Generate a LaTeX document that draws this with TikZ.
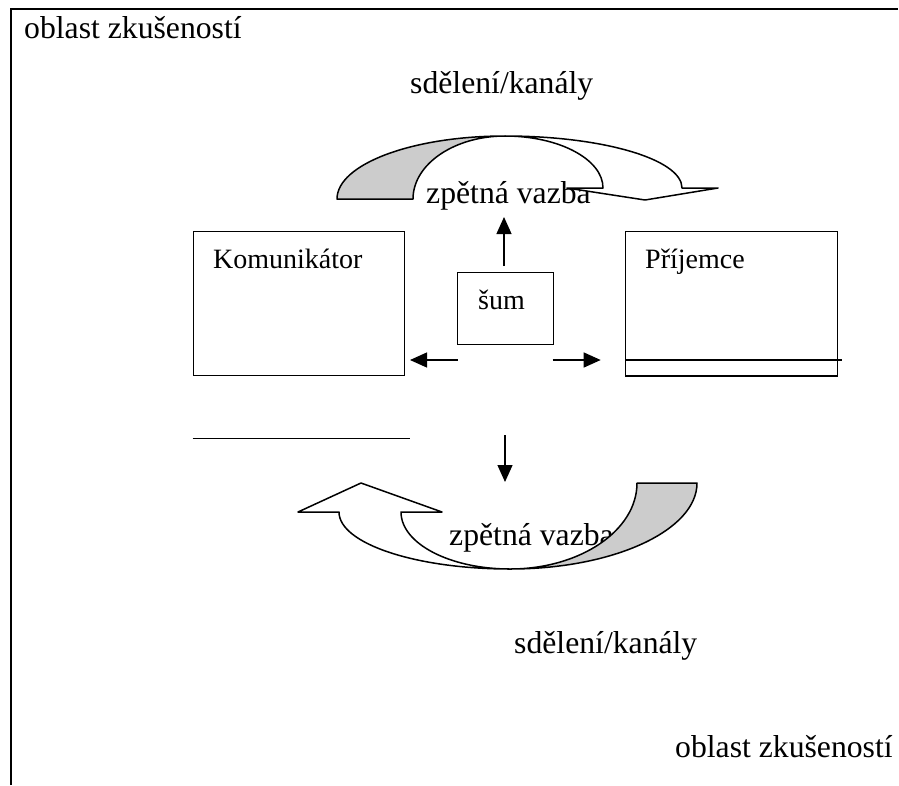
\documentclass[tikz,border=0pt]{standalone}
\usepackage{fontspec}
\setmainfont{Liberation Serif}
\usetikzlibrary{arrows.meta}
\definecolor{shadegrey}{HTML}{CCCCCC}
\begin{document}
\begin{tikzpicture}[x=1pt,y=-1pt,
  frameline/.style={line width=2pt},
  boxnode/.style={draw, line width=1.2pt, anchor=north west, inner sep=0pt},
  bigtext/.style={anchor=base west, inner sep=0pt, font=\fontsize{31.7}{36}\selectfont},
  boxtext/.style={anchor=base west, inner sep=0pt, font=\fontsize{28}{32}\selectfont},
  conn/.style={line width=1.3pt, -{Triangle[length=17pt,width=15pt]}},
  band/.style={draw, line width=1.5pt, line join=round},
  plainline/.style={line width=1.3pt}]
\useasboundingbox (0,0) rectangle (899,785);
% frame
\coordinate (fl) at (11,785);
\coordinate (ftl) at (11,9);
\coordinate (fr) at (898,9);
\draw[frameline] (fl) -- (ftl) -- (fr);
% texts
\node[bigtext] (oblastA) at (24,38) {oblast zkušeností};
\node[bigtext] (oblastB) at (675,757) {oblast zkušeností};
\node[bigtext] (sdelA) at (410,93) {sdělení/kanály};
\node[bigtext] (sdelB) at (514,653) {sdělení/kanály};
\node[bigtext] (zpetA) at (426,203) {zpětná vazba};
\node[bigtext] (zpetB) at (449,545) {zpětná vazba};
% top curved arrow
\path[band, fill=shadegrey] (337,199) .. controls (337,164.2) and (412.2,136) .. (505,136)
   .. controls (454.2,136) and (413,164.2) .. (413,199) -- cycle;
\path[band, fill=white] (505,136) .. controls (602.8,136) and (682,159.3) .. (682,188)
   -- (718,188) -- (645,200) -- (567,188) -- (603,188)
   .. controls (603,159.3) and (559.1,136) .. (505,136) -- cycle;
% bottom curved arrow
\path[band, fill=white] (510,569) .. controls (415.6,569) and (339,543.5) .. (339,512)
   -- (298,512) -- (361,483) -- (442,512) -- (401,512)
   .. controls (401,543.5) and (449.8,569) .. (510,569) -- cycle;
\path[band, fill=shadegrey] (697,483) -- (637,483) .. controls (637,530.5) and (580.1,569) .. (510,569)
   .. controls (613.3,569) and (697,530.5) .. (697,483) -- cycle;
% boxes
\node[boxnode, minimum width=211.3pt, minimum height=144pt] (kom) at (192.7,231) {};
\node[boxtext] (komlab) at (213,268) {Komunikátor};
\node[boxnode, minimum width=211.7pt, minimum height=144.3pt] (prij) at (625,231) {};
\node[boxtext] (prijlab) at (645,268) {Příjemce};
\node[boxnode, minimum width=96.3pt, minimum height=72.3pt] (sum) at (456.7,271.7) {};
\node[boxtext] (sumlab) at (478,309) {šum};
% lines
\coordinate (pl1) at (625,360);
\coordinate (pl2) at (841.7,360);
\draw[plainline] (pl1) -- (pl2);
\coordinate (kl1) at (192.7,438.3);
\coordinate (kl2) at (410,438.3);
\draw[plainline] (kl1) -- (kl2);
% arrows
\coordinate (upS) at (504,266);
\coordinate (upE) at (504,217);
\draw[conn] (upS) -- (upE);
\coordinate (lS) at (457.7,360);
\coordinate (lE) at (410,360);
\draw[conn] (lS) -- (lE);
\coordinate (rS) at (552.7,360);
\coordinate (rE) at (600.7,360);
\draw[conn] (rS) -- (rE);
\coordinate (dS) at (505,435);
\coordinate (dE) at (505,482);
\draw[conn] (dS) -- (dE);
\end{tikzpicture}
\end{document}
